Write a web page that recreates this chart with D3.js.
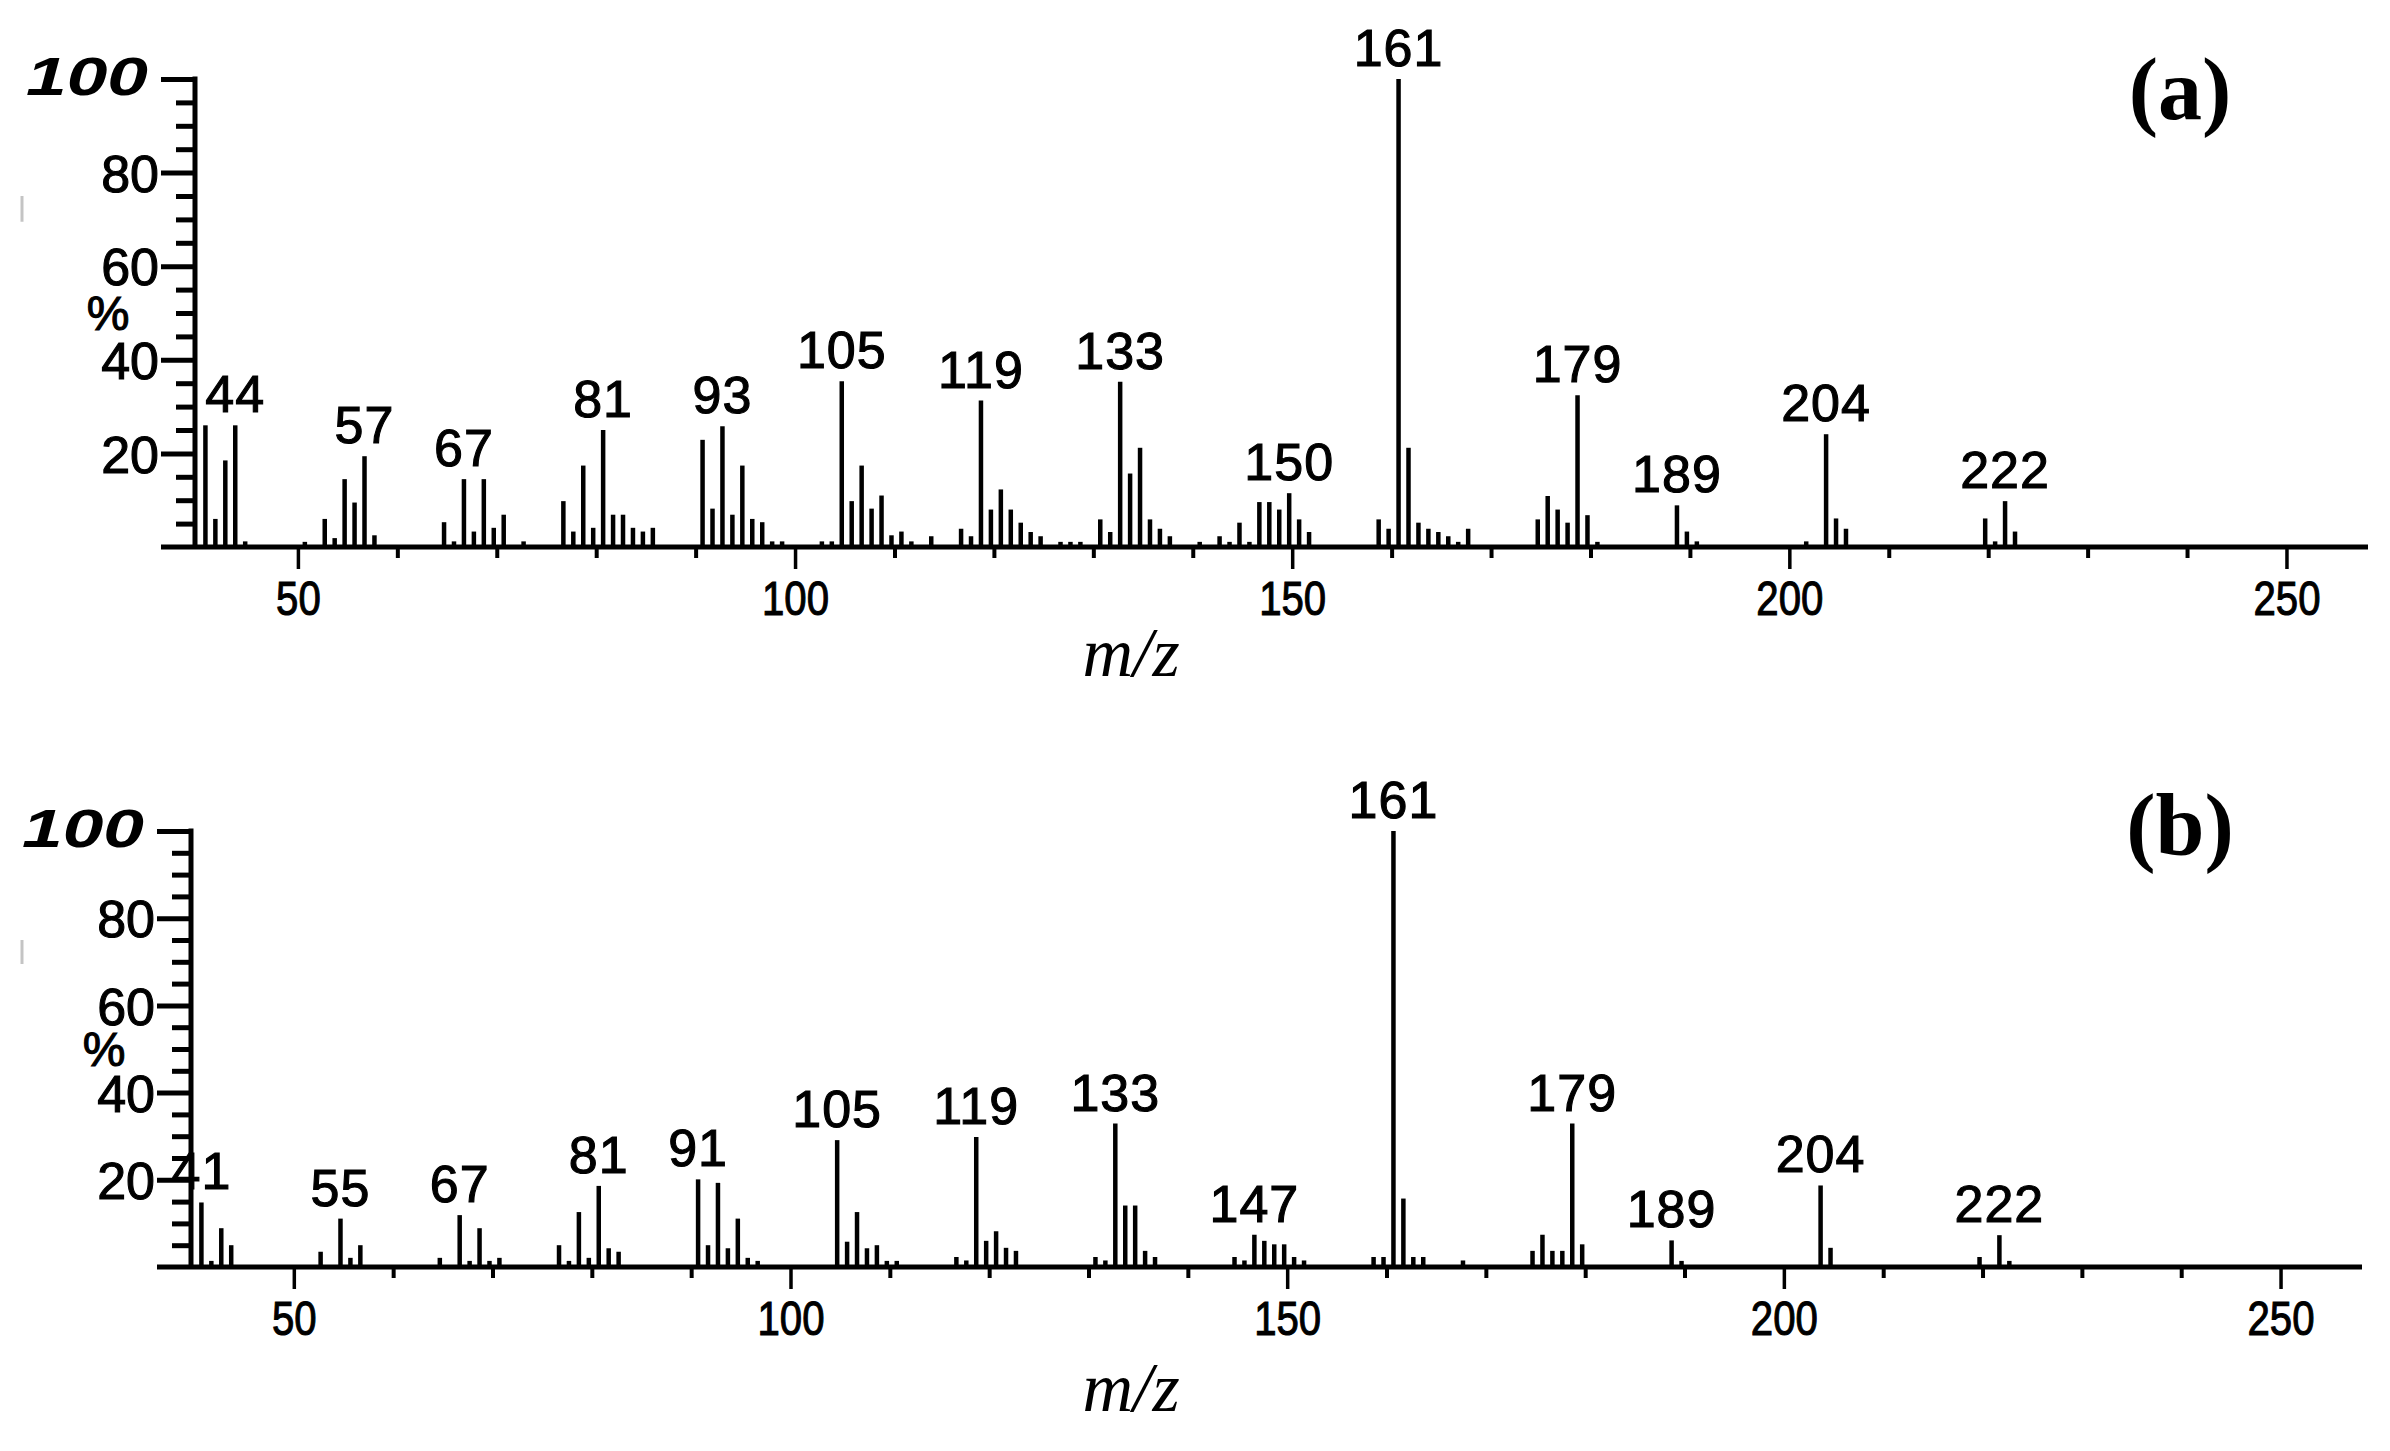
<!DOCTYPE html>
<html>
<head>
<meta charset="utf-8">
<script src="https://cdn.jsdelivr.net/npm/d3@7"></script>
<style>
    body { margin: 0; background: #fff; }
    svg { display: block; }
    text { font-family: "Liberation Sans", Arial, sans-serif; fill: #000; }
    text.num { stroke: #000; stroke-width: 1.1px; }
</style>
</head>
<body>
<div id="chart"></div>
<script>
// spectrum (a): [m/z, relative intensity %]
const spectrumA = [
    [41, 26], [42, 6], [43, 18.5], [44, 26], [45, 1.2], [51, 1.1], [53, 6], [54, 1.9],
    [55, 14.5], [56, 9.5], [57, 19.4], [58, 2.5], [65, 5.3], [66, 1.2], [67, 14.5], [68, 3.3],
    [69, 14.5], [70, 4.1], [71, 6.9], [73, 1.2], [77, 9.8], [78, 3.3], [79, 17.4], [80, 4.1],
    [81, 25], [82, 6.9], [83, 6.9], [84, 4.1], [85, 3.3], [86, 4.1], [91, 22.9], [92, 8.2],
    [93, 25.8], [94, 6.9], [95, 17.4], [96, 6], [97, 5.3], [98, 1.2], [99, 1.2], [103, 1.2],
    [104, 1.2], [105, 35.4], [106, 9.8], [107, 17.4], [108, 8.2], [109, 11], [110, 2.5], [111, 3.3],
    [112, 1.2], [114, 2.3], [117, 3.9], [118, 2.3], [119, 31.3], [120, 8], [121, 12.3], [122, 8],
    [123, 5.2], [124, 3.2], [125, 2.3], [127, 1.1], [128, 1.1], [129, 1.1], [131, 5.9], [132, 3.2],
    [133, 35.3], [134, 15.7], [135, 21.2], [136, 5.9], [137, 3.9], [138, 2.3], [141, 1.1], [143, 2.3],
    [144, 1.1], [145, 5.2], [146, 1.1], [147, 9.6], [148, 9.6], [149, 8], [150, 11.5], [151, 5.9],
    [152, 3.2], [159, 5.9], [160, 3.9], [161, 100], [162, 21.2], [163, 5.2], [164, 3.9], [165, 3.2],
    [166, 2.3], [167, 1.1], [168, 3.9], [175, 5.9], [176, 10.9], [177, 8], [178, 5.2], [179, 32.4],
    [180, 6.8], [181, 1.1], [189, 8.9], [190, 3.3], [191, 1.2], [202, 1.2], [204, 24.1], [205, 6.1],
    [206, 3.9], [220, 6.1], [221, 1.2], [222, 9.8], [223, 3.3]
];

// spectrum (b)
const spectrumB = [
    [41, 14.8], [42, 1.4], [43, 8.9], [44, 5], [53, 3.5], [55, 11.1], [56, 2.1], [57, 5],
    [65, 2.1], [67, 11.9], [68, 1.4], [69, 8.9], [70, 1.4], [71, 2.1], [77, 5], [78, 1.4],
    [79, 12.6], [80, 2.1], [81, 18.6], [82, 4.3], [83, 3.5], [91, 20.1], [92, 5], [93, 19.3],
    [94, 4.3], [95, 11.1], [96, 2.1], [97, 1.4], [105, 29.1], [106, 5.8], [107, 12.6], [108, 4.3],
    [109, 5], [110, 1.4], [111, 1.4], [117, 2.3], [118, 1.5], [119, 29.8], [120, 6], [121, 8.2],
    [122, 4.4], [123, 3.7], [131, 2.3], [132, 1.5], [133, 32.9], [134, 14.1], [135, 14.1], [136, 3.7],
    [137, 2.3], [145, 2.3], [146, 1.5], [147, 7.4], [148, 6], [149, 5.2], [150, 5.2], [151, 2.3],
    [152, 1.5], [159, 2.3], [160, 2.3], [161, 100], [162, 15.7], [163, 2.3], [164, 2.3], [168, 1.5],
    [175, 3.7], [176, 7.4], [177, 3.7], [178, 3.7], [179, 32.9], [180, 5.2], [189, 6.1], [190, 1.4],
    [204, 18.7], [205, 4.4], [220, 2.3], [222, 7.3], [223, 1.4]
];

// labelled peaks
const labelsA = [44, 57, 67, 81, 93, 105, 119, 133, 150, 161, 179, 189, 204, 222];
const labelsB = [41, 55, 67, 81, 91, 105, 119, 133, 147, 161, 179, 189, 204, 222];

const xTicks = d3.range(50, 251, 10);   // labels only on multiples of 50
const yTicks = d3.range(5, 101, 5);     // labels on 20,40,60,80
const mzDomain = [39.65, 258.2];

const W = 2390, H = 1451;

let svg = d3.select('#chart').append('svg')
    .attr('width', W)
    .attr('height', H);

let panels = [
    { data: spectrumA, labels: labelsA, left: 195, right: 2368, top: 79, bottom: 547, title: '(a)', titleY: 119, mzY: 676 },
    { data: spectrumB, labels: labelsB, left: 191, right: 2362, top: 831, bottom: 1267, title: '(b)', titleY: 855, mzY: 1411 }
];

panels.forEach(p => {
    let x = d3.scaleLinear().domain(mzDomain).range([p.left, p.right]);
    let y = d3.scaleLinear().domain([0, 100]).range([p.bottom, p.top]);
    let g = svg.append('g');

    // x axis (ticks below the baseline)
    let xAxis = d3.axisBottom(x)
        .tickValues(xTicks)
        .tickSizeOuter(0)
        .tickFormat(d => d % 50 === 0 ? d : '');
    let xg = g.append('g')
        .attr('transform', 'translate(0,' + p.bottom + ')')
        .call(xAxis);
    xg.select('.domain').remove();
    xg.selectAll('.tick line')
        .attr('stroke', '#000')
        .attr('stroke-width', d => d % 50 === 0 ? 3.5 : 4)
        .attr('y2', d => d % 50 === 0 ? 22 : 11);
    xg.selectAll('.tick text')
        .attr('class', 'num')
        .attr('y', 68)
        .attr('dy', 0)
        .attr('transform', 'scale(0.82,1)')
        .style('font-size', '49px')
        .attr('fill', '#000');

    // y axis
    let yAxis = d3.axisLeft(y)
        .tickValues(yTicks)
        .tickSizeOuter(0)
        .tickFormat(d => (d % 20 === 0 && d < 100) ? d : '');
    let yg = g.append('g')
        .attr('transform', 'translate(' + p.left + ',0)')
        .call(yAxis);
    yg.select('.domain').remove();
    yg.selectAll('.tick line')
        .attr('stroke', '#000')
        .attr('stroke-width', 5)
        .attr('x2', d => d % 20 === 0 ? -34 : -19);
    yg.selectAll('.tick text')
        .attr('class', 'num')
        .attr('x', -36)
        .attr('dy', '0.36em')
        .style('font-size', '52px')
        .attr('fill', '#000');

    // axis lines
    g.append('line')
        .attr('x1', p.left - 34).attr('x2', p.right)
        .attr('y1', p.bottom).attr('y2', p.bottom)
        .attr('stroke', '#000').attr('stroke-width', 5);
    g.append('line')
        .attr('x1', p.left).attr('x2', p.left)
        .attr('y1', y(100) - 2.5).attr('y2', p.bottom)
        .attr('stroke', '#000').attr('stroke-width', 5);

    // italic "100" at the top of the axis
    g.append('text')
        .attr('x', p.left - 47)
        .attr('y', y(100) + 16)
        .attr('text-anchor', 'end')
        .attr('textLength', 122)
        .attr('lengthAdjust', 'spacingAndGlyphs')
        .style('font-size', '54px')
        .style('font-weight', 'bold')
        .style('font-style', 'italic')
        .text('100');

    // "%" unit
    g.append('text')
        .attr('class', 'num')
        .attr('x', p.left - 87)
        .attr('y', y(50))
        .attr('dy', '0.36em')
        .attr('text-anchor', 'middle')
        .style('font-size', '48px')
        .text('%');

    // faint mark left of the axis
    g.append('line')
        .attr('x1', 22).attr('x2', 22)
        .attr('y1', y(75)).attr('y2', y(69.5))
        .attr('stroke', '#c4c4c4').attr('stroke-width', 3);

    // peaks
    g.selectAll('.peak')
        .data(p.data)
        .enter()
        .append('line')
        .attr('class', 'peak')
        .attr('x1', d => x(d[0]) - 3)
        .attr('x2', d => x(d[0]) - 3)
        .attr('y1', y(0))
        .attr('y2', d => y(d[1]))
        .attr('stroke', '#000')
        .attr('stroke-width', 4.5);

    // peak labels
    let lookup = new Map(p.data);
    g.selectAll('.peak-label')
        .data(p.labels)
        .enter()
        .append('text')
        .attr('class', 'peak-label num')
        .attr('x', d => x(d) - 3)
        .attr('y', d => y(lookup.get(d)) - 13)
        .attr('text-anchor', 'middle')
        .style('font-size', '52px')
        .style('letter-spacing', '1px')
        .text(d => d);

    // panel title
    g.append('text')
        .attr('x', 2180)
        .attr('y', p.titleY)
        .attr('text-anchor', 'middle')
        .style('font-family', '"Liberation Serif", "Times New Roman", serif')
        .style('font-weight', 'bold')
        .style('font-size', '88px')
        .text(p.title);

    // x axis title
    g.append('text')
        .attr('x', 1131)
        .attr('y', p.mzY)
        .attr('text-anchor', 'middle')
        .style('font-family', '"Liberation Serif", "Times New Roman", serif')
        .style('font-style', 'italic')
        .style('font-size', '70px')
        .text('m/z');
});
</script>
</body>
</html>
